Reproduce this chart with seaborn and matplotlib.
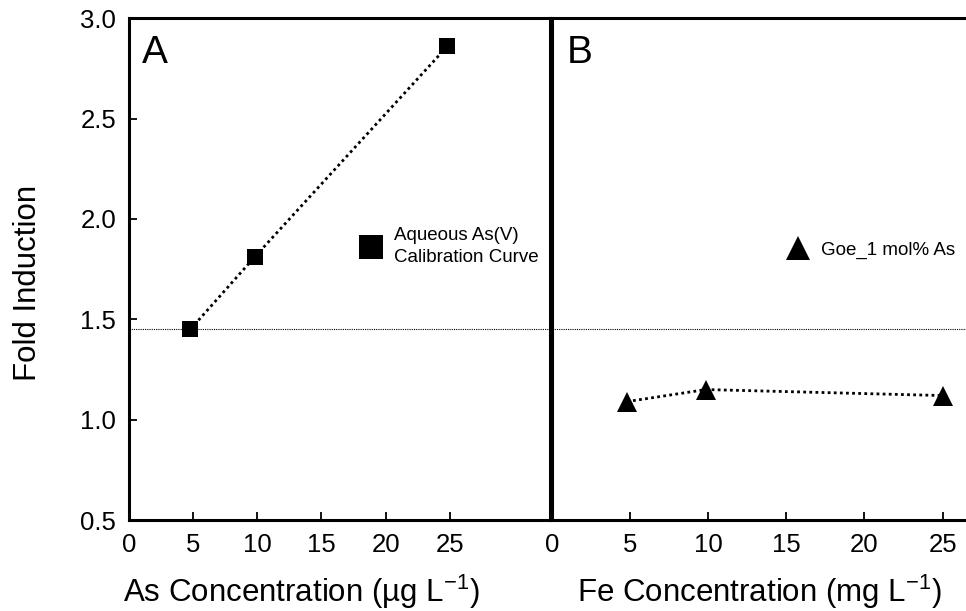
import numpy as np
import pandas as pd
import matplotlib
matplotlib.use('Agg')
import matplotlib.pyplot as plt
import seaborn as sns
from matplotlib.lines import Line2D

# Panel A: aqueous As(V) calibration curve
as_conc = [4.8, 9.8, 24.8]
as_fold = [1.45, 1.81, 2.86]

# Panel B: goethite with 1 mol% As
fe_conc = [4.8, 9.85, 25.05]
fe_fold = [1.09, 1.15, 1.12]

threshold = 1.45
x_ticks = [0, 5, 10, 15, 20, 25]
y_ticks = [0.5, 1.0, 1.5, 2.0, 2.5, 3.0]

sns.set_style('ticks')
plt.rcParams['font.family'] = ['Liberation Sans', 'DejaVu Sans']
plt.rcParams['mathtext.fontset'] = 'custom'
plt.rcParams['mathtext.rm'] = 'Liberation Sans'
plt.rcParams['mathtext.it'] = 'Liberation Sans'
for k in ['axes.edgecolor', 'text.color', 'axes.labelcolor', 'xtick.color', 'ytick.color']:
    plt.rcParams[k] = 'black'

fig = plt.figure(figsize=(9.66, 6.11), dpi=100)
W, H = 966, 611
bot, top = 520, 18.3
axA = fig.add_axes([128.7 / W, (H - bot) / H, (550 - 128.7) / W, (bot - top) / H])
axB = fig.add_axes([552 / W, (H - bot) / H, (966 - 552) / W, (bot - top) / H])

dfA = pd.DataFrame({'conc': as_conc, 'fold': as_fold})
dfB = pd.DataFrame({'conc': fe_conc, 'fold': fe_fold})

sns.lineplot(data=dfA, x='conc', y='fold', ax=axA, color='black', marker='s',
             markersize=11.5, linestyle=(0, (1, 1.2)), linewidth=2, markeredgewidth=0)
sns.lineplot(data=dfB, x='conc', y='fold', ax=axB, color='black', marker='^',
             markersize=15, linestyle=(0, (1, 1.2)), linewidth=2, markeredgewidth=0)

for ax in (axA, axB):
    ax.axhline(threshold, color='black', linestyle=(0, (1, 1)), linewidth=0.8, zorder=1)
    ax.set_ylim(0.5, 3.0)
    ax.set_xticks(x_ticks)
    ax.tick_params(direction='in', length=6, width=1.3, labelsize=18.5, pad=9)
    for s in ax.spines.values():
        s.set_linewidth(2.2)
    ax.set_xlabel('')
    ax.set_ylabel('')

axA.set_xlim(0, 32.8)
axB.set_xlim(0, 26.5)
axA.set_yticks(y_ticks)
axA.set_yticklabels([f'{v:.1f}' for v in y_ticks])
axB.set_yticks([])
axB.spines['right'].set_visible(False)

axA.set_xlabel('As Concentration (µg L$^{-1}$)', fontsize=22.5)
axA.xaxis.set_label_coords(0.411, -0.106)
axB.set_xlabel('Fe Concentration (mg L$^{-1}$)', fontsize=22.5)
axB.xaxis.set_label_coords(0.5, -0.106)
axA.set_ylabel('Fold Induction', fontsize=22.5)
axA.yaxis.set_label_coords(-0.203, 0.472)

axA.text(0.032, 0.911, 'A', transform=axA.transAxes, fontsize=28)
axB.text(0.036, 0.911, 'B', transform=axB.transAxes, fontsize=28)

hA = Line2D([], [], marker='s', linestyle='none', color='black', markersize=17, markeredgewidth=0)
legA = axA.legend(handles=[hA], labels=['Aqueous As(V)\nCalibration Curve'], frameon=False,
                  loc='center left', bbox_to_anchor=(0.553, 0.545), fontsize=13.5,
                  handlelength=1.0, handletextpad=0.7, borderpad=0, borderaxespad=0)
for t in legA.get_texts():
    t.set_linespacing(1.45)
hB = Line2D([], [], marker='^', linestyle='none', color='black', markersize=17, markeredgewidth=0)
axB.legend(handles=[hB], labels=['Goe_1 mol% As'], frameon=False,
           loc='center left', bbox_to_anchor=(0.572, 0.538), fontsize=13.5,
           handlelength=1.0, handletextpad=0.7, borderpad=0, borderaxespad=0)

fig.savefig('out.png', dpi=100)
